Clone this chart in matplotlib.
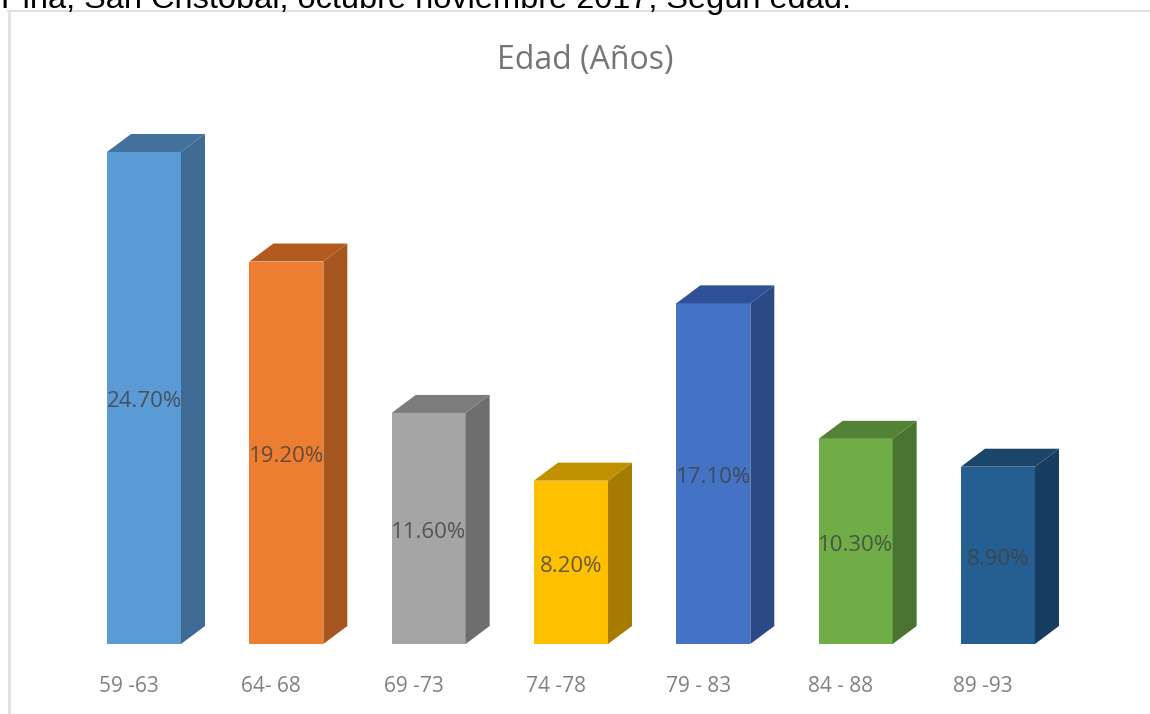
# -*- coding: utf-8 -*-
# Edad (Años): 3D looking column chart
import matplotlib
matplotlib.use('Agg')
import matplotlib.pyplot as plt
from matplotlib.lines import Line2D
from matplotlib.patches import Polygon, Rectangle

categories = ['59 -63', '64- 68', '69 -73', '74 -78', '79 - 83', '84 - 88', '89 -93']
values = [24.7, 19.2, 11.6, 8.2, 17.1, 10.3, 8.9]
value_labels = ['24.70%', '19.20%', '11.60%', '8.20%', '17.10%', '10.30%', '8.90%']
front_colors = ['#5B9BD5', '#ED7D31', '#A5A5A5', '#FFC000', '#4472C4', '#70AD47', '#255E91']
side_colors = ['#3E6A94', '#A5571F', '#6E6E6E', '#A57C00', '#2B4A85', '#4A7230', '#173D60']
top_colors = ['#41719C', '#B35B1E', '#7C7C7C', '#BF9000', '#2F5097', '#548235', '#1B4569']

W, H = 1150, 714
px_x = 142.33   # pixels per category
px_y = 19.92    # pixels per percent
x0 = 144        # pixel of first bar centre
y0 = 644        # pixel of the baseline
bar_w = 74 / px_x
dx = 24 / px_x
dy = 18 / px_y

fig = plt.figure(figsize=(W / 100, H / 100), dpi=100, facecolor='white')
ax = fig.add_axes([0, 0, 1, 1])
ax.set_xlim(-x0 / px_x, (W - x0) / px_x)
ax.set_ylim(-(H - y0) / px_y, y0 / px_y)
ax.axis('off')

for i, v in enumerate(values):
    l, r = i - bar_w / 2, i + bar_w / 2
    ax.add_patch(Rectangle((l, 0), bar_w, v, fc=front_colors[i], ec='none'))
    ax.add_patch(Polygon([(r, 0), (r + dx, dy), (r + dx, v + dy), (r, v)],
                         fc=side_colors[i], ec='none'))
    ax.add_patch(Polygon([(l, v), (l + dx, v + dy), (r + dx, v + dy), (r, v)],
                         fc=top_colors[i], ec='none'))
    ax.text(i, v / 2 - 4 / px_y, value_labels[i], ha='center', va='center',
            family='Open Sans', fontsize=16, color='#404040', alpha=0.8)
    ax.text(i - 15 / px_x, -43 / px_y, categories[i], ha='center', va='center',
            family='Open Sans', fontsize=15, color='#808080')

# chart frame, pasted in a document
fig.add_artist(Line2D([8.5 / W, 8.5 / W], [0, 1 - 11 / H], color='#E0E0E0', lw=2))
fig.add_artist(Line2D([8 / W, 1], [1 - 11 / H, 1 - 11 / H], color='#E0E0E0', lw=1.5))

fig.text(585 / W, 1 - 60 / H, 'Edad (Años)', ha='center', va='center',
         family='Open Sans', fontsize=23, color='#757575')
fig.text(1 / W, 1 - 8 / H, 'Pina, San Cristóbal, octubre noviembre 2017, Según edad.',
         ha='left', va='baseline', family='Liberation Sans', fontsize=23.4, color='black')

fig.savefig('out.png', dpi=100)
